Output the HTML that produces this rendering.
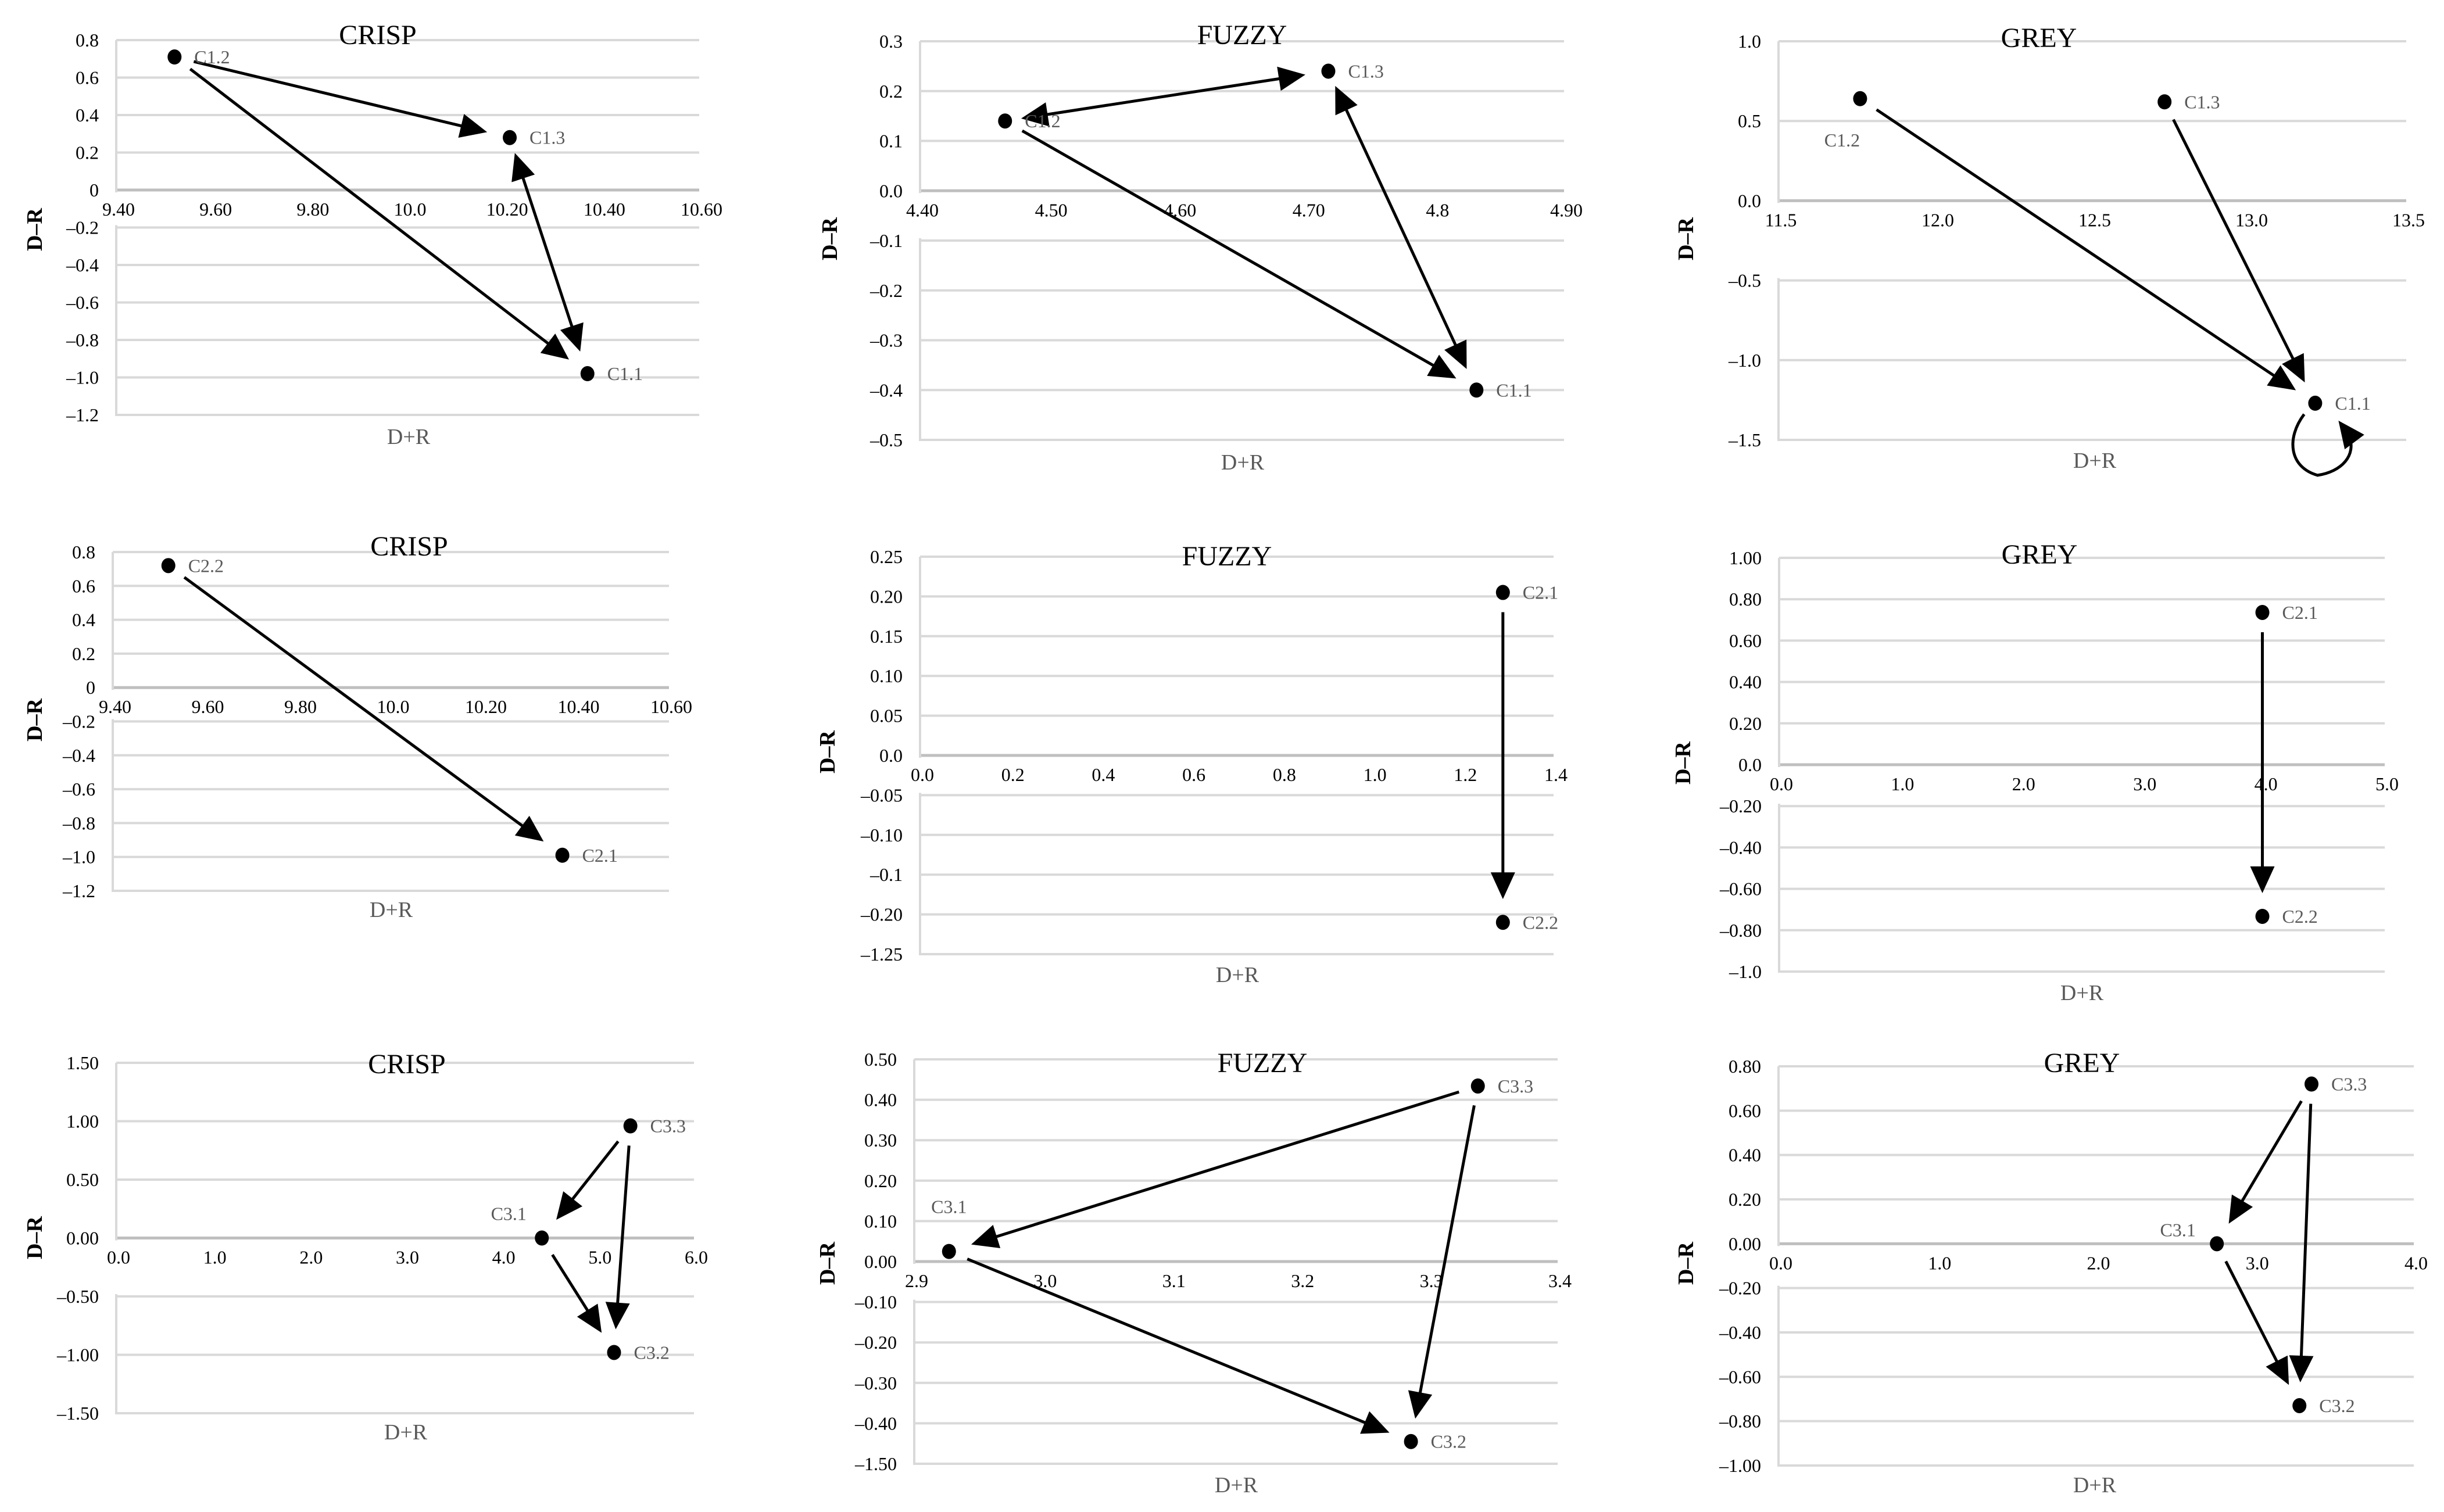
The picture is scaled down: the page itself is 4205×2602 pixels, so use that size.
<!DOCTYPE html>
<html><head><meta charset="utf-8">
<style>
html,body{margin:0;padding:0;background:#fff;}
svg{display:block;}
text{font-family:"Liberation Serif",serif;}
</style></head>
<body>
<svg id="fig" width="4205" height="2602" viewBox="0 0 4205 2602" xmlns="http://www.w3.org/2000/svg"></svg>
<script>
// ---- data (D+R, D-R) per panel ----
const p1Names=["C1.1","C1.2","C1.3"]; const p1X=[10.37,9.52,10.21]; const p1Y=[-0.98,0.71,0.28];
const p2Names=["C1.1","C1.2","C1.3"]; const p2X=[4.832,4.466,4.717]; const p2Y=[-0.40,0.14,0.24];
const p3Names=["C1.1","C1.2","C1.3"]; const p3X=[13.21,11.76,12.73]; const p3Y=[-1.27,0.64,0.62];
const p4Names=["C2.1","C2.2"]; const p4X=[10.37,9.52]; const p4Y=[-0.99,0.72];
const p5Names=["C2.1","C2.2"]; const p5X=[1.288,1.288]; const p5Y=[0.205,-0.21];
const p6Names=["C2.1","C2.2"]; const p6X=[3.99,3.99]; const p6Y=[0.736,-0.733];
const p7Names=["C3.1","C3.2","C3.3"]; const p7X=[4.42,5.17,5.34]; const p7Y=[0.0,-0.98,0.96];
const p8Names=["C3.1","C3.2","C3.3"]; const p8X=[2.927,3.286,3.338]; const p8Y=[0.025,-0.445,0.434];
const p9Names=["C3.1","C3.2","C3.3"]; const p9X=[2.76,3.28,3.356]; const p9Y=[0.0,-0.73,0.72];
// tick labels
const p1XT=["9.40","9.60","9.80","10.0","10.20","10.40","10.60"];
const p1YT=["0.8","0.6","0.4","0.2","0","–0.2","–0.4","–0.6","–0.8","–1.0","–1.2"];
const p2XT=["4.40","4.50","4.60","4.70","4.8","4.90"];
const p2YT=["0.3","0.2","0.1","0.0","–0.1","–0.2","–0.3","–0.4","–0.5"];
const p3XT=["11.5","12.0","12.5","13.0","13.5"];
const p3YT=["1.0","0.5","0.0","–0.5","–1.0","–1.5"];
const p5XT=["0.0","0.2","0.4","0.6","0.8","1.0","1.2","1.4"];
const p5YT=["0.25","0.20","0.15","0.10","0.05","0.0","–0.05","–0.10","–0.1","–0.20","–1.25"];
const p6XT=["0.0","1.0","2.0","3.0","4.0","5.0"];
const p6YT=["1.00","0.80","0.60","0.40","0.20","0.0","–0.20","–0.40","–0.60","–0.80","–1.0"];
const p7XT=["0.0","1.0","2.0","3.0","4.0","5.0","6.0"];
const p7YT=["1.50","1.00","0.50","0.00","–0.50","–1.00","–1.50"];
const p8XT=["2.9","3.0","3.1","3.2","3.3","3.4"];
const p8YT=["0.50","0.40","0.30","0.20","0.10","0.00","–0.10","–0.20","–0.30","–0.40","–1.50"];
const p9XT=["0.0","1.0","2.0","3.0","4.0"];
const p9YT=["0.80","0.60","0.40","0.20","0.00","–0.20","–0.40","–0.60","–0.80","–1.00"];
// arrows: [from, to, double(0/1)]
const p1Arrows=[[1,2,0],[2,0,1],[1,0,0]];
const p2Arrows=[[1,2,1],[2,0,1],[1,0,0]];
const p3Arrows=[[1,0,0],[2,0,0]];
const p4Arrows=[[1,0,0]];
const p5Arrows=[[0,1,0]];
const p6Arrows=[[0,1,0]];
const p7Arrows=[[2,0,0],[2,1,0],[0,1,0]];
const p8Arrows=[[2,0,0],[2,1,0],[0,1,0]];
const p9Arrows=[[2,0,0],[2,1,0],[0,1,0]];

const NS="http://www.w3.org/2000/svg";
const svg=document.getElementById('fig');
function mk(tag,attrs,parent){const e=document.createElementNS(NS,tag);for(const k in attrs)e.setAttribute(k,attrs[k]);(parent||svg).appendChild(e);return e;}

const panels=[
 {id:"p1",title:"CRISP",L:200,R:1203,T:69,B:714,xmin:9.4,xmax:10.6,names:p1Names,xs:p1X,ys:p1Y,xt:p1XT,yt:p1YT,ar:p1Arrows,yTitle:[59,395],xTitle:[703,751],tt:[650,60],lab:{}},
 {id:"p2",title:"FUZZY",L:1583,R:2691,T:71,B:757,xmin:4.4,xmax:4.9,names:p2Names,xs:p2X,ys:p2Y,xt:p2XT,yt:p2YT,ar:p2Arrows,yTitle:[1427,411],xTitle:[2138,795],tt:[2137,60],lab:{}},
 {id:"p3",title:"GREY",L:3060,R:4140,T:71,B:757,xmin:11.5,xmax:13.5,names:p3Names,xs:p3X,ys:p3Y,xt:p3XT,yt:p3YT,ar:p3Arrows,yTitle:[2900,411],xTitle:[3604,792],tt:[3508,65],lab:{1:[-31,82,"middle"]},loop:0},
 {id:"p4",title:"CRISP",L:194,R:1151,T:950,B:1533,xmin:9.4,xmax:10.6,names:p4Names,xs:p4X,ys:p4Y,xt:p1XT,yt:p1YT,ar:p4Arrows,yTitle:[59,1239],xTitle:[673,1565],tt:[704,940],lab:{}},
 {id:"p5",title:"FUZZY",L:1583,R:2673,T:958,B:1642,xmin:0,xmax:1.4,names:p5Names,xs:p5X,ys:p5Y,xt:p5XT,yt:p5YT,ar:p5Arrows,yTitle:[1423,1294],xTitle:[2129,1677],tt:[2111,957],lab:{}},
 {id:"p6",title:"GREY",L:3061,R:4103,T:960,B:1672,xmin:0,xmax:5,names:p6Names,xs:p6X,ys:p6Y,xt:p6XT,yt:p6YT,ar:p6Arrows,yTitle:[2895,1313],xTitle:[3582,1708],tt:[3509,954],lab:{}},
 {id:"p7",title:"CRISP",L:200,R:1194,T:1829,B:2432,xmin:0,xmax:6,names:p7Names,xs:p7X,ys:p7Y,xt:p7XT,yt:p7YT,ar:p7Arrows,yTitle:[59,2130],xTitle:[698,2464],tt:[700,1831],lab:{0:[-57,-31,"middle"]}},
 {id:"p8",title:"FUZZY",L:1573,R:2680,T:1823,B:2519,xmin:2.9,xmax:3.4,names:p8Names,xs:p8X,ys:p8Y,xt:p8XT,yt:p8YT,ar:p8Arrows,yTitle:[1423,2174],xTitle:[2127,2555],tt:[2172,1829],lab:{0:[0,-66,"middle"]}},
 {id:"p9",title:"GREY",L:3060,R:4153,T:1835,B:2522,xmin:0,xmax:4,names:p9Names,xs:p9X,ys:p9Y,xt:p9XT,yt:p9YT,ar:p9Arrows,yTitle:[2900,2174],xTitle:[3604,2555],tt:[3582,1829],lab:{0:[-67,-13,"middle"]}}
];

function parseTick(s){return parseFloat(s.replace('–','-'));}

panels.forEach(p=>{
  const g=mk('g',{});
  
  
  const n=p.yt.length;
  const step=(p.B-p.T)/(n-1);
  // y scale: use top and second-tick values (first two labels define linear spacing)
  const yTop=parseTick(p.yt[0]), yNext=parseTick(p.yt[1]);
  const dy=yTop-yNext;
  const sy=v=>p.T+(yTop-v)/dy*step;
  const sx=v=>p.L+(v-p.xmin)/(p.xmax-p.xmin)*(p.R-p.L);
  const zeroIdx=Math.round(yTop/dy);
  const y0=p.T+zeroIdx*step;
  // gridlines
  for(let i=0;i<n;i++){
    const y=p.T+i*step;
    const gl=mk('line',{x1:p.L,x2:p.R,y1:y,y2:y,stroke:i===zeroIdx?'#bfbfbf':'#d9d9d9','stroke-width':i===zeroIdx?5:4},g);
    
    
  }
  const ax=mk('line',{x1:p.L,x2:p.L,y1:p.T,y2:p.B+2,stroke:'#d9d9d9','stroke-width':4},g);
  
  
  // white band for x tick labels
  const band=mk('rect',{x:p.L-4,y:y0+4,width:p.R-p.L+20,height:Math.max(step-8,40),fill:'#fff'},g);
  
  
  // y ticks
  p.yt.forEach((t,i)=>{
    const tx=mk('text',{x:p.L-30,y:p.T+i*step+11,'text-anchor':'end','font-size':32,fill:'#000'},g);
    tx.textContent=t;
    
    
  });
  // x ticks
  const m=p.xt.length;
  p.xt.forEach((t,i)=>{
    const x=p.L+i*(p.R-p.L)/(m-1);
    const tx=mk('text',{x:x+4,y:y0+44,'text-anchor':'middle','font-size':32,fill:'#000'},g);
    tx.textContent=t;
    
    
  });
  // titles
  const tt=mk('text',{x:p.tt[0],y:p.tt[1]+16,'text-anchor':'middle','font-size':48,fill:'#000'},g);
  tt.textContent=p.title;
  
  
  const xt=mk('text',{x:p.xTitle[0],y:p.xTitle[1]+13,'text-anchor':'middle','font-size':38,fill:'#595959'},g);
  xt.textContent='D+R';
  
  
  const yt=mk('text',{x:0,y:0,'text-anchor':'middle','font-size':38,'font-weight':'bold',fill:'#000',transform:`translate(${p.yTitle[0]+13},${p.yTitle[1]}) rotate(-90)`},g);
  yt.textContent='D–R';
  
  
  // pixel points
  const P=p.xs.map((v,i)=>[sx(v),sy(p.ys[i])]);
  // arrows
  function head(tx,ty,ux,uy){
    const L=46,W=21;
    const bx=tx-ux*L,by=ty-uy*L;
    const h=mk('polygon',{points:`${tx},${ty} ${bx-uy*W},${by+ux*W} ${bx+uy*W},${by-ux*W}`,fill:'#000'},g);
    
    
  }
  p.ar.forEach(a=>{
    const [x1,y1]=P[a[0]],[x2,y2]=P[a[1]];
    const d=Math.hypot(x2-x1,y2-y1),ux=(x2-x1)/d,uy=(y2-y1)/d;
    const s=a[2]?28:34,e=40;
    const sxp=x1+ux*s,syp=y1+uy*s,exp=x2-ux*e,eyp=y2-uy*e;
    const ln=mk('line',{x1:a[2]?sxp+ux*30:sxp,y1:a[2]?syp+uy*30:syp,x2:exp-ux*30,y2:eyp-uy*30,stroke:'#000','stroke-width':5},g);
    
    
    head(exp,eyp,ux,uy);
    if(a[2]) head(sxp,syp,-ux,-uy);
  });
  if(p.loop!==undefined){
    const [cx,cy]=P[p.loop];
    const lp=mk('path',{d:`M${cx-19},${cy+19} C${cx-50},${cy+60} ${cx-45},${cy+110} ${cx+4},${cy+124} C${cx+45},${cy+118} ${cx+72},${cy+90} ${cx+58},${cy+55}`,fill:'none',stroke:'#000','stroke-width':5},g);
    
    
    head(cx+40,cy+30,-0.6,-0.8);
  }
  // points + labels
  P.forEach((q,i)=>{
    const c=mk('ellipse',{cx:q[0],cy:q[1],rx:12,ry:13,fill:'#000'},g);
    
    
    const o=p.lab[i]||[34,11,"start"];
    const lb=mk('text',{x:q[0]+o[0],y:q[1]+o[1],'text-anchor':o[2],'font-size':32,fill:'#595959'},g);
    lb.textContent=p.names[i];
    
    
  });
});
</script>
</body></html>
